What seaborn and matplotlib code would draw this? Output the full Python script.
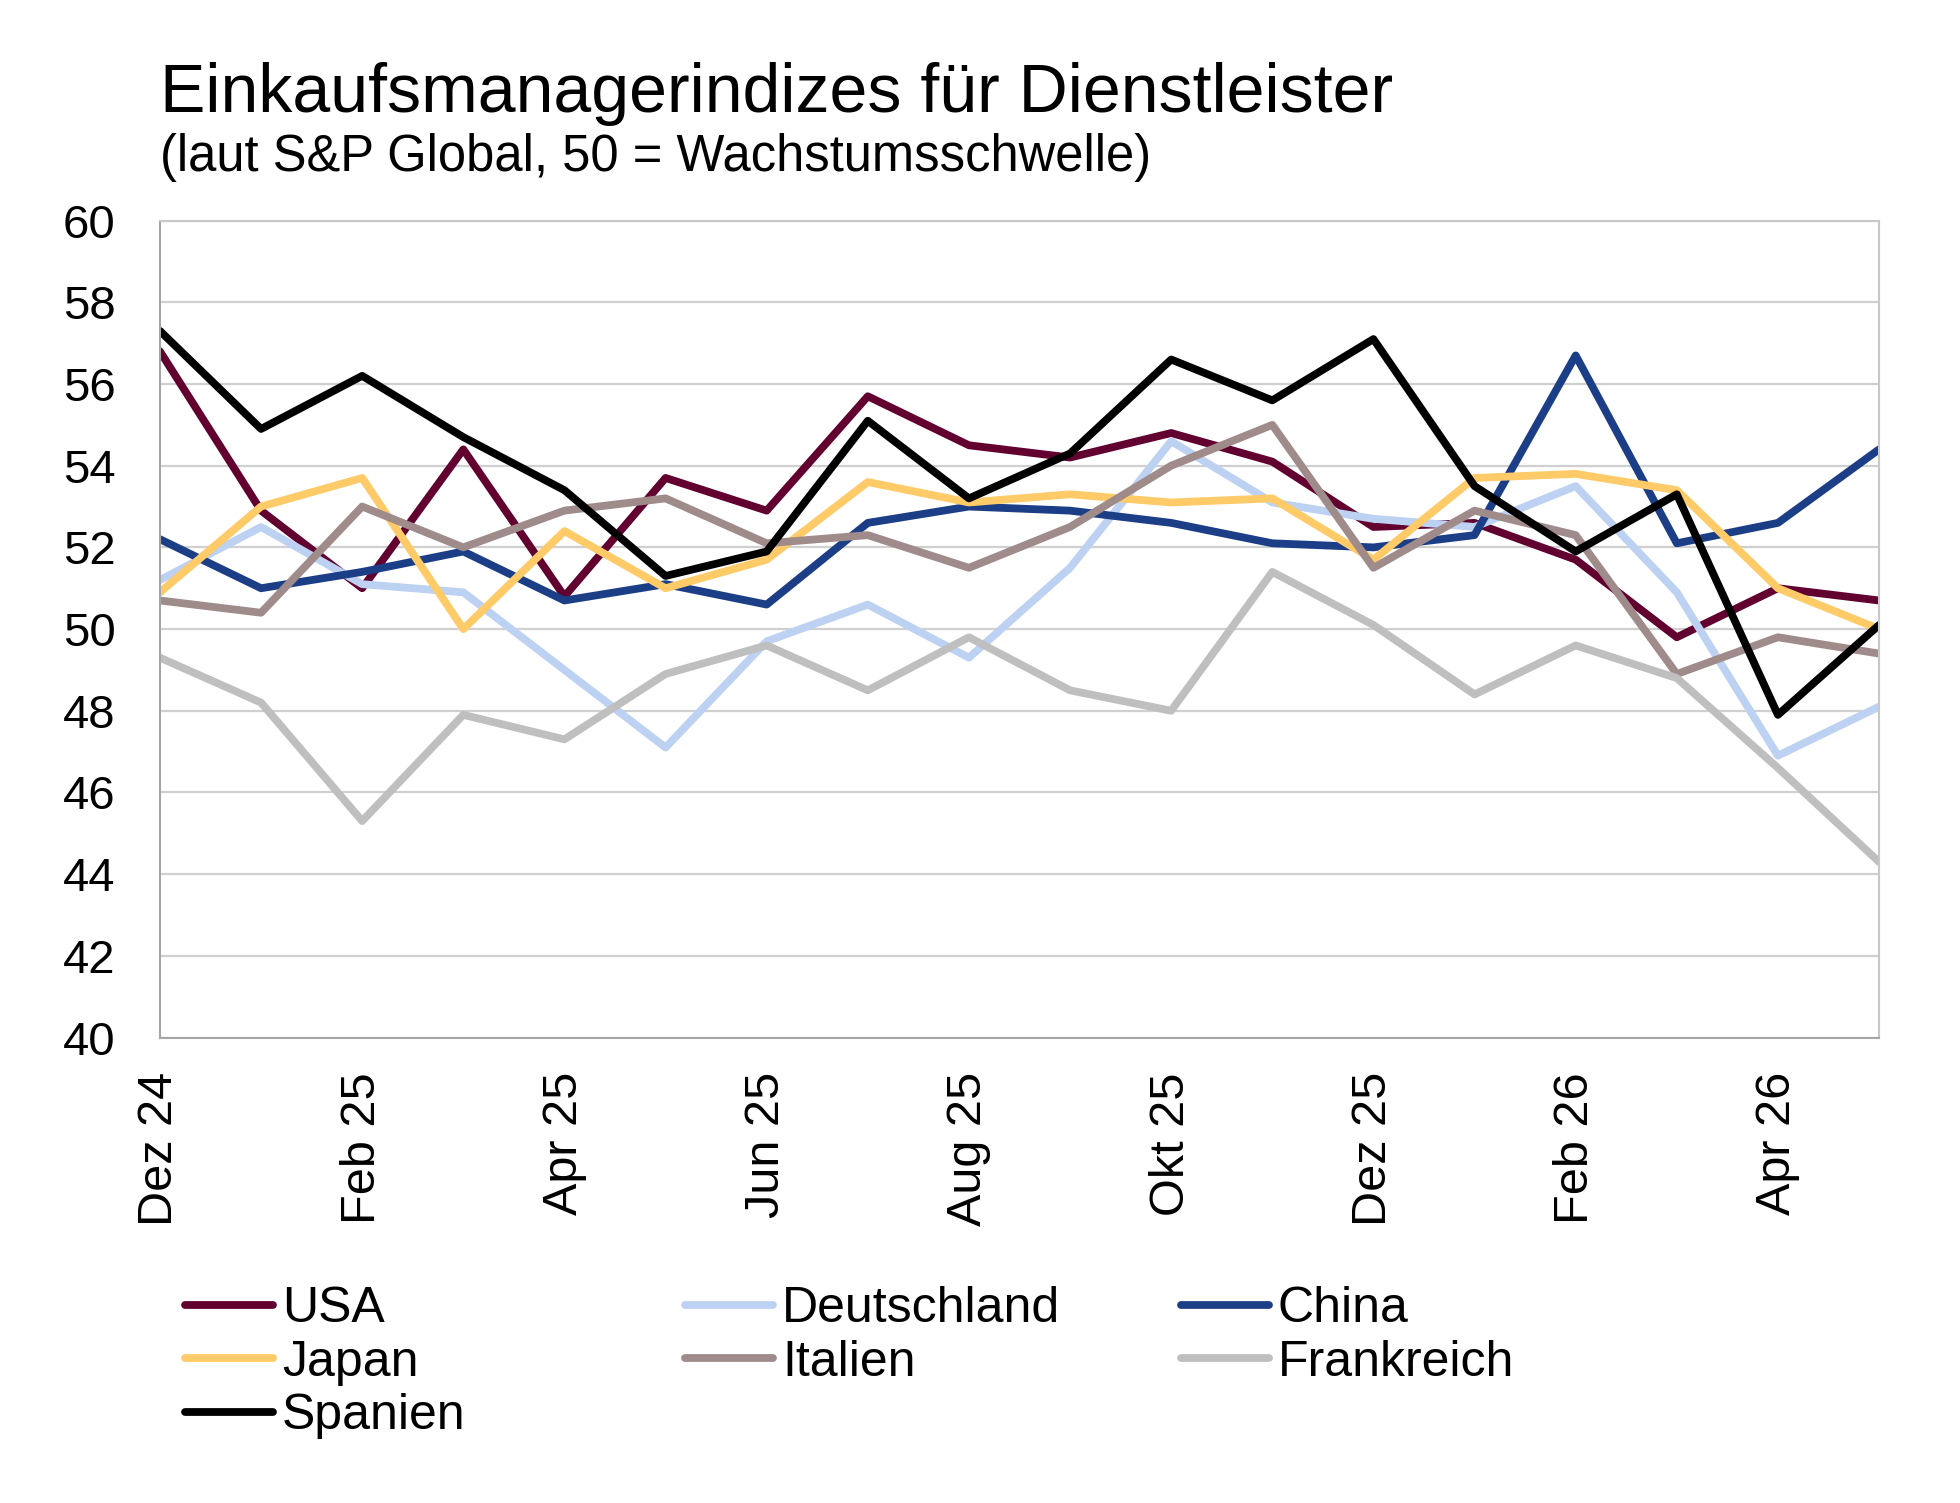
import matplotlib
matplotlib.use("Agg")
import matplotlib.pyplot as plt
from matplotlib.lines import Line2D
import seaborn as sns
import pandas as pd

# Monate Dez 24 bis Mai 26
monate = ["Dez 24", "Jan 25", "Feb 25", "Mär 25", "Apr 25", "Mai 25", "Jun 25",
          "Jul 25", "Aug 25", "Sep 25", "Okt 25", "Nov 25", "Dez 25", "Jan 26",
          "Feb 26", "Mär 26", "Apr 26", "Mai 26"]

usa = [56.8, 52.9, 51.0, 54.4, 50.8, 53.7, 52.9, 55.7, 54.5, 54.2, 54.8, 54.1,
       52.5, 52.6, 51.7, 49.8, 51.0, 50.7]
deutschland = [51.2, 52.5, 51.1, 50.9, 49.0, 47.1, 49.7, 50.6, 49.3, 51.5, 54.6, 53.1,
               52.7, 52.5, 53.5, 50.9, 46.9, 48.1]
china = [52.2, 51.0, 51.4, 51.9, 50.7, 51.1, 50.6, 52.6, 53.0, 52.9, 52.6, 52.1,
         52.0, 52.3, 56.7, 52.1, 52.6, 54.4]
japan = [50.9, 53.0, 53.7, 50.0, 52.4, 51.0, 51.7, 53.6, 53.1, 53.3, 53.1, 53.2,
         51.7, 53.7, 53.8, 53.4, 51.0, 50.0]
italien = [50.7, 50.4, 53.0, 52.0, 52.9, 53.2, 52.1, 52.3, 51.5, 52.5, 54.0, 55.0,
           51.5, 52.9, 52.3, 48.9, 49.8, 49.4]
frankreich = [49.3, 48.2, 45.3, 47.9, 47.3, 48.9, 49.6, 48.5, 49.8, 48.5, 48.0, 51.4,
              50.1, 48.4, 49.6, 48.8, 46.6, 44.3]
spanien = [57.3, 54.9, 56.2, 54.7, 53.4, 51.3, 51.9, 55.1, 53.2, 54.3, 56.6, 55.6,
           57.1, 53.5, 51.9, 53.3, 47.9, 50.1]

laender = ["USA", "Deutschland", "China", "Japan", "Italien", "Frankreich", "Spanien"]
farben = {"USA": "#620030", "Deutschland": "#BDD1F2", "China": "#1B3E86",
          "Japan": "#FFCA68", "Italien": "#A08B8B", "Frankreich": "#BFBFBF",
          "Spanien": "#000000"}

df = pd.DataFrame({"USA": usa, "Deutschland": deutschland, "China": china,
                   "Japan": japan, "Italien": italien, "Frankreich": frankreich,
                   "Spanien": spanien})
df["idx"] = range(len(monate))
lang = df.melt(id_vars="idx", var_name="Land", value_name="Wert")

sns.set_style("white")
plt.rcParams["font.family"] = ["Liberation Sans", "DejaVu Sans"]
plt.rcParams["text.color"] = "black"
plt.rcParams["xtick.labelcolor"] = "black"
plt.rcParams["ytick.labelcolor"] = "black"

fig = plt.figure(figsize=(19.6, 15.03), dpi=100)
ax = fig.add_axes([0.0816, 0.3097, 0.9587 - 0.0816, 0.8532 - 0.3097])

sns.lineplot(data=lang, x="idx", y="Wert", hue="Land", hue_order=laender,
             palette=farben, linewidth=5.6, legend=False, ax=ax,
             solid_capstyle="round", solid_joinstyle="round")

ax.set_xlim(0, len(monate) - 1)
ax.set_ylim(40, 60)
ax.set_yticks(range(40, 61, 2))
ax.set_xticks(range(0, len(monate), 2))
ax.set_xticklabels(monate[::2], rotation=90, fontsize=35, color="black")
ax.tick_params(axis="y", labelsize=34, length=11, width=1.2, color="#A6A6A6",
               labelcolor="black", direction="out", pad=21)
ax.tick_params(axis="x", length=11, width=1.2, color="#BFBFBF",
               labelcolor="black", direction="out", pad=14)
ax.set_xlabel("")
ax.set_ylabel("")
ax.yaxis.grid(True, color="#D0D0D0", linewidth=1.6)
ax.xaxis.grid(False)
ax.set_axisbelow(True)
for s in ["left", "bottom"]:
    ax.spines[s].set_color("#A6A6A6")
    ax.spines[s].set_linewidth(1.5)
for s in ["top", "right"]:
    ax.spines[s].set_color("#C8C8C8")
    ax.spines[s].set_linewidth(1.5)

fig.text(160 / 1960, 1 - 112 / 1503, "Einkaufsmanagerindizes für Dienstleister",
         fontsize=49, ha="left", va="baseline", color="black")
fig.text(160 / 1960, 1 - 171 / 1503, "(laut S&P Global, 50 = Wachstumsschwelle)",
         fontsize=36.5, ha="left", va="baseline", color="black")

# Legende in drei Spalten mit festen Positionen (wie Excel)
spalten = [["USA", "Japan", "Spanien"], ["Deutschland", "Italien"], ["China", "Frankreich"]]
x_pos = [185, 685, 1181]
for namen, xp in zip(spalten, x_pos):
    handles = [Line2D([], [], color=farben[n], linewidth=5.6, solid_capstyle="round")
               for n in namen]
    leg = fig.legend(handles, namen, loc="upper left",
                     bbox_to_anchor=(xp / 1960, 1 - 1286 / 1503),
                     frameon=False, fontsize=36, handlelength=1.76,
                     handletextpad=0.18, labelspacing=0.15, borderpad=0,
                     borderaxespad=0, labelcolor="black")

fig.savefig("out.png", dpi=100, facecolor="white")
